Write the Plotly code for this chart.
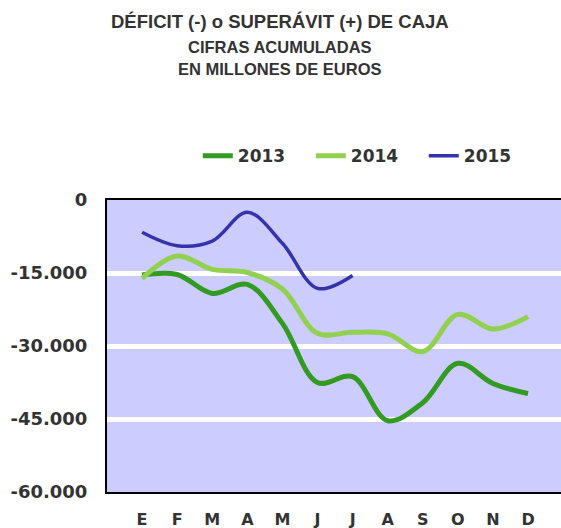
import plotly.graph_objects as go

months = ["E", "F", "M", "A", "M", "J", "J", "A", "S", "O", "N", "D"]
y2013 = [-15400, -15300, -19200, -17350, -25350, -37500, -36300, -45350, -41650, -33550, -37700, -39750]
y2014 = [-16100, -11500, -14250, -14900, -18300, -27400, -27200, -27500, -31150, -23500, -26500, -23970]
y2015 = [-6640, -9400, -8430, -2530, -8900, -18150, -15500]
yticks = [0, -15000, -30000, -45000, -60000]
yticklabels = ["0", "-15.000", "-30.000", "-45.000", "-60.000"]

xi = list(range(len(months)))
FONT = "DejaVu Sans"
TXT = "#333333"

fig = go.Figure()
fig.add_trace(go.Scatter(x=xi, y=y2013, name="2013", mode="lines",
                         line=dict(color="#339a22", width=5, shape="spline", smoothing=1.0)))
fig.add_trace(go.Scatter(x=xi, y=y2014, name="2014", mode="lines",
                         line=dict(color="#92d050", width=5, shape="spline", smoothing=1.0)))
fig.add_trace(go.Scatter(x=xi[:len(y2015)], y=y2015, name="2015", mode="lines",
                         line=dict(color="#3333aa", width=3.5, shape="spline", smoothing=1.0)))

fig.update_layout(
    width=561, height=528,
    margin=dict(l=107, r=0, t=200, b=36, autoexpand=False),
    paper_bgcolor="white",
    plot_bgcolor="#ccccff",
    showlegend=True,
    legend=dict(orientation="h", x=0.20, xanchor="left", y=1.15, yanchor="middle",
                font=dict(family=FONT, size=17, color=TXT, weight="bold"),
                entrywidth=68, entrywidthmode="pixels",
                bgcolor="rgba(0,0,0,0)", tracegroupgap=0),
    xaxis=dict(range=[-1.0, 11.94], tickvals=xi, ticktext=months,
               showgrid=False, zeroline=False, automargin=False,
               showline=True, linecolor="black", linewidth=2, mirror=True,
               ticks="", ticklabelstandoff=12,
               tickfont=dict(family=FONT, size=16, color=TXT, weight="bold")),
    yaxis=dict(range=[-60000, 0], tickvals=yticks, ticktext=yticklabels,
               showgrid=True, gridcolor="white", gridwidth=5, zeroline=False, automargin=False,
               showline=True, linecolor="black", linewidth=2,
               ticks="", ticklabelstandoff=14,
               tickfont=dict(family=FONT, size=18, color=TXT, weight="bold")),
    annotations=[
        dict(text="<b>DÉFICIT (-) o SUPERÁVIT (+) DE CAJA</b>", xref="paper", yref="paper",
             x=0.381, y=1.613, showarrow=False, xanchor="center", yanchor="middle",
             font=dict(family="Liberation Sans", size=18.5, color=TXT)),
        dict(text="<b>CIFRAS ACUMULADAS</b>", xref="paper", yref="paper",
             x=0.381, y=1.524, showarrow=False, xanchor="center", yanchor="middle",
             font=dict(family="Liberation Sans", size=16.5, color=TXT)),
        dict(text="<b>EN MILLONES DE EUROS</b>", xref="paper", yref="paper",
             x=0.381, y=1.449, showarrow=False, xanchor="center", yanchor="middle",
             font=dict(family="Liberation Sans", size=16.5, color=TXT)),
    ],
)

fig.write_html("out.html", config={"displayModeBar": False},
               post_script=("document.documentElement.style.margin='0';"
                            "document.documentElement.style.overflow='hidden';"
                            "document.body.style.margin='0';document.body.style.overflow='hidden';"))
